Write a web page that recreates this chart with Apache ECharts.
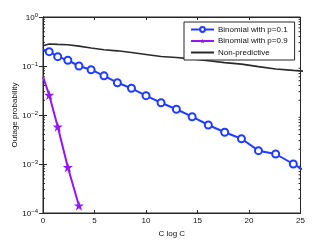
<!DOCTYPE html>
<html><head><meta charset="utf-8">
<script src="https://cdn.jsdelivr.net/npm/echarts@6/dist/echarts.min.js"></script>
<style>html,body{margin:0;padding:0;background:#fff}#c{width:332px;height:240px}</style>
</head><body><div id="c"></div>
<script>
// x positions (C log C) for C = 1..20
const xVals = [0, 0.60, 1.43, 2.41, 3.49, 4.67, 5.92, 7.22, 8.59, 10.0, 11.46, 12.95, 14.48, 16.05, 17.64, 19.27, 20.92, 22.59, 24.30, 26.02];
const binom01 = [0.217, 0.196, 0.155, 0.131, 0.100, 0.084, 0.063, 0.0456, 0.0351, 0.0248, 0.0178, 0.0131, 0.00923, 0.00625, 0.00444, 0.00328, 0.00187, 0.00160, 0.00100, 0.00061];
const binom09 = [0.0605, 0.0256, 0.00577, 0.000857, 0.000141];
const nonPred = [0.26, 0.281, 0.276, 0.271, 0.254, 0.233, 0.215, 0.204, 0.189, 0.172, 0.156, 0.149, 0.140, 0.128, 0.117, 0.109, 0.097, 0.0868, 0.0813, 0.0765];
const xTicks = [0, 5, 10, 15, 20, 25];
const yTickExps = [-4, -3, -2, -1, 0];
const seriesNames = ['Binomial with p=0.1', 'Binomial with p=0.9', 'Non-predictive'];

const minorVals = [];
for (let e = -4; e < 0; e++) for (let k = 2; k <= 9; k++) minorVals.push([0, k * Math.pow(10, e)]);

const star = 'path://M50,0L61.2,34.5L97.6,34.5L68.2,55.9L79.4,90.5L50,69.1L20.6,90.5L31.8,55.9L2.4,34.5L38.8,34.5Z';
const FONT = 'Liberation Sans, Arial, Helvetica, sans-serif';
const AX = '#262626';

function pairs(xs, ys) {
  return ys.map((y, i) => i === 0 ? { value: [xs[i], y], symbol: 'none' } : [xs[i], y]);
}

const chart = echarts.init(document.getElementById('c'), null, { renderer: 'canvas' });
chart.setOption({
  animation: false,
  backgroundColor: '#fff',
  textStyle: { fontFamily: FONT },
  grid: { left: 43, right: 31.5, top: 17, bottom: 27, show: true, borderColor: AX, borderWidth: 1, containLabel: false, outerBoundsMode: 'none' },
  legend: {
    data: [
      { name: seriesNames[0] },
      { name: seriesNames[1] },
      { name: seriesNames[2], itemStyle: { color: 'rgba(0,0,0,0)', borderWidth: 0, opacity: 0 } }
    ],
    orient: 'vertical',
    left: 184, top: 22,
    itemWidth: 23, itemHeight: 6, itemGap: 2.5,
    padding: [3, 7, 3, 6],
    backgroundColor: '#fff', borderColor: AX, borderWidth: 1, borderRadius: 0,
    textStyle: { fontSize: 8, color: '#111', fontFamily: FONT, padding: [0, 0, 0, -1], lineHeight: 9 }
  },
  xAxis: [{
    type: 'value', min: 0, max: 25, interval: 5,
    name: 'C log C', nameLocation: 'middle', nameGap: 15,
    nameTextStyle: { fontSize: 8, color: '#111', fontFamily: FONT },
    axisLine: { show: true, lineStyle: { color: AX, width: 1 } },
    axisTick: { show: true, inside: true, length: 3, lineStyle: { color: AX } },
    axisLabel: { fontSize: 8, color: '#111', margin: 4, fontFamily: FONT },
    splitLine: { show: false }
  }, {
    type: 'value', min: 0, max: 25, interval: 5, position: 'top',
    axisLine: { show: true, lineStyle: { color: AX } },
    axisTick: { show: true, inside: true, length: 3, lineStyle: { color: AX } },
    axisLabel: { show: false }, splitLine: { show: false }
  }],
  yAxis: [{
    type: 'log', logBase: 10, min: 1e-4, max: 1,
    name: 'Outage probability', nameLocation: 'middle', nameGap: 24.5, nameMoveOverlap: false,
    nameTextStyle: { fontSize: 8, color: '#111', fontFamily: FONT },
    axisLine: { show: true, lineStyle: { color: AX, width: 1 } },
    axisTick: { show: true, inside: true, length: 4, lineStyle: { color: AX } },
    axisLabel: {
      fontSize: 8, color: '#111', margin: 5, fontFamily: FONT,
      formatter: v => '{b|10}{s|' + String(Math.round(Math.log10(v))).replace('-', '\u2212') + '}',
      rich: {
        b: { fontSize: 8, color: '#111', fontFamily: FONT, lineHeight: 10, verticalAlign: 'bottom' },
        s: { fontSize: 6, color: '#111', fontFamily: FONT, lineHeight: 6, verticalAlign: 'top' }
      }
    },
    splitLine: { show: false }
  }, {
    type: 'log', logBase: 10, min: 1e-4, max: 1, position: 'right',
    axisLine: { show: true, lineStyle: { color: AX } },
    axisTick: { show: true, inside: true, length: 4, lineStyle: { color: AX } },
    axisLabel: { show: false }, splitLine: { show: false }
  }],
  series: [
    {
      name: seriesNames[0], type: 'line', clip: true,
      data: pairs(xVals, binom01),
      symbol: 'emptyCircle', symbolSize: 7,
      lineStyle: { color: '#1f3cff', width: 2 },
      itemStyle: { color: '#1f3cff', borderColor: '#1f3cff', borderWidth: 1.6 },
      z: 3
    },
    {
      name: seriesNames[1], type: 'line', clip: true,
      data: pairs(xVals, binom09),
      symbol: star, symbolSize: 10,
      lineStyle: { color: '#9515f5', width: 2 },
      itemStyle: { color: '#9515f5' },
      z: 3
    },
    {
      name: seriesNames[2], type: 'line', clip: true,
      data: nonPred.map((y, i) => [xVals[i], y]),
      symbol: 'none',
      lineStyle: { color: '#2a2a2a', width: 1.6 },
      itemStyle: { color: '#2a2a2a' },
      z: 2
    },
    {
      type: 'custom', silent: true, clip: false,
      data: minorVals,
      renderItem: (params, api) => {
        const v = api.value(1);
        const l = api.coord([0, v]);
        const r = api.coord([25, v]);
        return {
          type: 'group',
          children: [
            { type: 'line', shape: { x1: l[0], y1: l[1], x2: l[0] + 2, y2: l[1] }, style: { stroke: AX, lineWidth: 1 } },
            { type: 'line', shape: { x1: r[0], y1: r[1], x2: r[0] - 2, y2: r[1] }, style: { stroke: AX, lineWidth: 1 } }
          ]
        };
      },
      z: 1
    }
  ]
});
</script>
</body></html>
